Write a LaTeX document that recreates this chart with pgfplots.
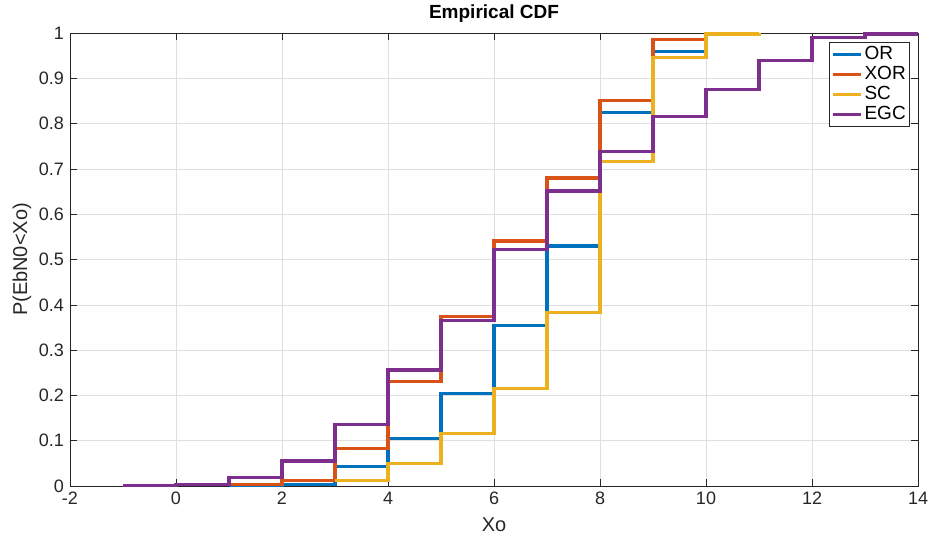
\documentclass[border=0pt]{standalone}
\usepackage{pgfplots}
\pgfplotsset{compat=1.18}
\usepackage{fontspec}
\setmainfont{Liberation Sans}
\definecolor{cOR}{rgb}{0,0.447,0.741}
\definecolor{cXOR}{rgb}{0.850,0.325,0.098}
\definecolor{cSC}{rgb}{0.929,0.694,0.125}
\definecolor{cEGC}{rgb}{0.494,0.184,0.556}
\definecolor{axc}{RGB}{38,38,38}
\definecolor{gridc}{RGB}{223,223,223}
\begin{document}
\begin{tikzpicture}
\fontsize{18}{21}\selectfont
\begin{axis}[
  width=848pt, height=453pt, scale only axis,
  xmin=-2, xmax=14, ymin=0, ymax=1,
  xtick={-2,0,2,4,6,8,10,12,14},
  ytick={0,0.1,0.2,0.3,0.4,0.5,0.6,0.7,0.8,0.9,1},
  grid=major, major grid style={color=gridc, line width=0.6pt},
  axis line style={color=axc, line width=0.6pt},
  tick style={color=axc, line width=0.6pt},
  tick align=inside, major tick length=7pt,
  ticklabel style={color=axc, font=\fontsize{18}{20}\selectfont},
  /pgf/number format/assume math mode=true,
  /pgf/number format/fixed,
  /pgf/number format/precision=1,
  every axis title shift=0pt,
  title={\bfseries Empirical CDF},
  title style={font=\fontsize{19}{22}\selectfont, color=black, at={(axis description cs:0.5,1.042)}, anchor=center},
  xlabel={Xo}, ylabel={P(EbN0<Xo)},
  xlabel style={font=\fontsize{20}{22}\selectfont, color=axc, at={(axis description cs:0.5,-0.086)}, anchor=center},
  ylabel style={font=\fontsize{20}{22}\selectfont, color=axc, at={(axis description cs:-0.0566,0.5)}, anchor=center},
  legend style={at={(0.9906,0.980)}, anchor=north east, draw=axc, fill=white, line width=0.6pt,
    font=\fontsize{19}{21}\selectfont, inner xsep=2pt, inner ysep=2pt, row sep=0pt, cells={anchor=west}},
  legend image code/.code={\draw[#1, line width=3.2pt] (0pt,0pt) -- (28pt,0pt);},
]
\addplot[cOR, line width=3.2pt, const plot] coordinates {(1,0) (2,0.004) (3,0.043) (4,0.104) (5,0.204) (6,0.355) (7,0.530) (8,0.825) (9,0.959) (10,1)};
\addlegendentry{OR}
\addplot[cXOR, line width=3.2pt, const plot] coordinates {(1,0.004) (2,0.013) (3,0.082) (4,0.230) (5,0.374) (6,0.541) (7,0.680) (8,0.851) (9,0.985) (10,1)};
\addlegendentry{XOR}
\addplot[cSC, line width=3.2pt, const plot] coordinates {(3,0.012) (4,0.050) (5,0.116) (6,0.216) (7,0.383) (8,0.717) (9,0.946) (10,0.998) (11,1)};
\addlegendentry{SC}
\addplot[cEGC, line width=3.2pt, const plot] coordinates {(-1,0) (0,0.003) (1,0.018) (2,0.055) (3,0.136) (4,0.256) (5,0.365) (6,0.522) (7,0.651) (8,0.738) (9,0.815) (10,0.876) (11,0.940) (12,0.990) (13,0.998) (14,1)};
\addlegendentry{EGC}
\coordinate (bl) at (rel axis cs:0,0);
\coordinate (tr) at (rel axis cs:1,1);
\end{axis}
\pgfresetboundingbox
\path ([shift={(-70pt,-53pt)}]bl) rectangle ([shift={(12pt,33pt)}]tr);
\end{tikzpicture}
\end{document}
